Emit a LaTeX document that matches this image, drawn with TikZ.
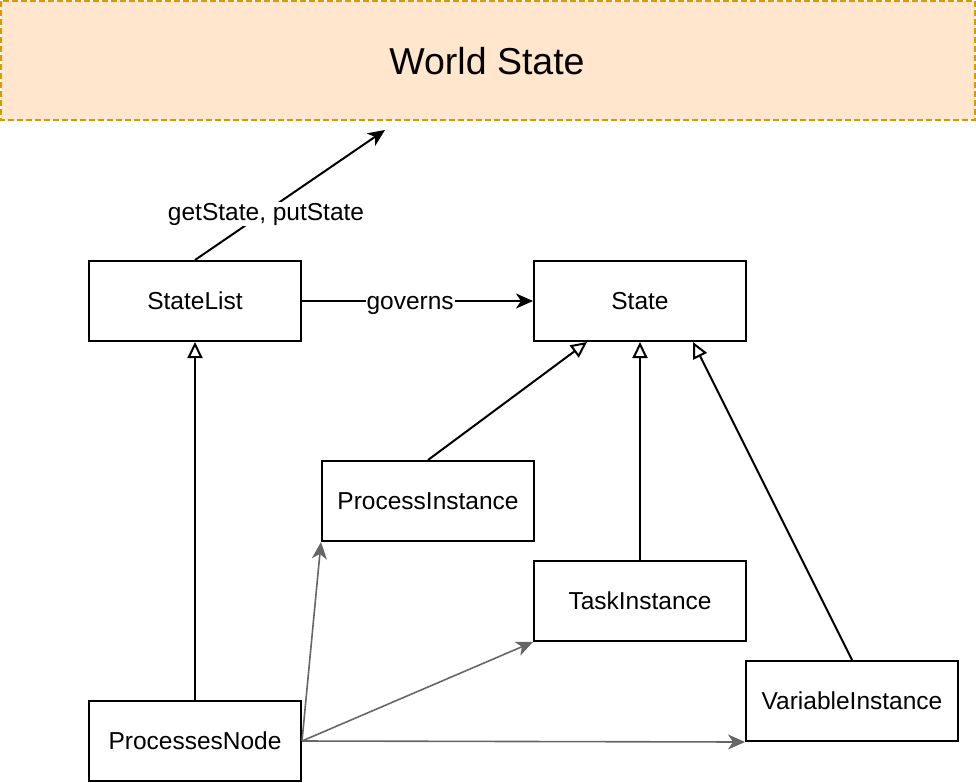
\documentclass[tikz,border=0pt]{standalone}
\usepackage{fontspec}
\setmainfont{Liberation Sans}
\usepackage{tikz}
\usetikzlibrary{arrows.meta}

\definecolor{wsfill}{HTML}{FFE6CC}
\definecolor{wsline}{HTML}{D79B00}
\definecolor{usesgray}{HTML}{666666}

\tikzset{
  classbox/.style={draw, line width=2pt, minimum width=212pt, minimum height=80pt,
    inner sep=0pt, font=\fontsize{24.5}{29}\selectfont},
  callarrow/.style={line width=2pt, -{Stealth[length=17pt, width=15pt, inset=5pt]}},
  inherits/.style={line width=2pt, -{Triangle[open, length=16pt, width=15pt, fill=white]}},
  uses/.style={usesgray, line width=1.6pt, -{Stealth[length=17pt, width=15pt, inset=5pt]}},
  edgelabel/.style={fill=white, inner sep=1pt, text height=17.5pt, text depth=5pt,
    yshift=-2.5pt, font=\fontsize{24.5}{29}\selectfont}
}

\begin{document}
\begin{tikzpicture}[x=1pt, y=-1pt]
\useasboundingbox (0,0) rectangle (976,782);

% world state
\draw [fill=wsfill, draw=wsline, line width=2pt, dash pattern=on 6pt off 3pt] (1,1) rectangle (975,120);
\node (world) at (487,61) {\fontsize{37.5}{44}\selectfont World State};

% classes
\node [classbox] (statelist) at (195,301) {StateList};
\node [classbox] (state) at (640,301) {State};
\node [classbox] (procinst) at (428,501) {ProcessInstance};
\node [classbox] (taskinst) at (640,601) {TaskInstance};
\node [classbox] (varinst) at (852,701) {VariableInstance};
\node [classbox] (procnode) at (195,741) {ProcessesNode};

\coordinate (wsend) at (385,130);

% access and governs
\draw [callarrow] (statelist.north) -- (wsend) node [edgelabel, pos=0.374] {getState, putState};
\draw [callarrow] (statelist.east) -- (state.west) node [edgelabel, pos=0.468] {governs};

% inheritance
\draw [inherits] (procnode.north) -- (statelist.south);
\draw [inherits] (procinst.north) -- ([xshift=-53pt]state.south);
\draw [inherits] (taskinst.north) -- (state.south);
\draw [inherits] (varinst.north) -- ([xshift=53pt]state.south);

% processes node uses
\draw [uses] (procnode.east) -- (procinst.south west);
\draw [uses] (procnode.east) -- (taskinst.south west);
\draw [uses] (procnode.east) -- (varinst.south west);
\end{tikzpicture}
\end{document}
